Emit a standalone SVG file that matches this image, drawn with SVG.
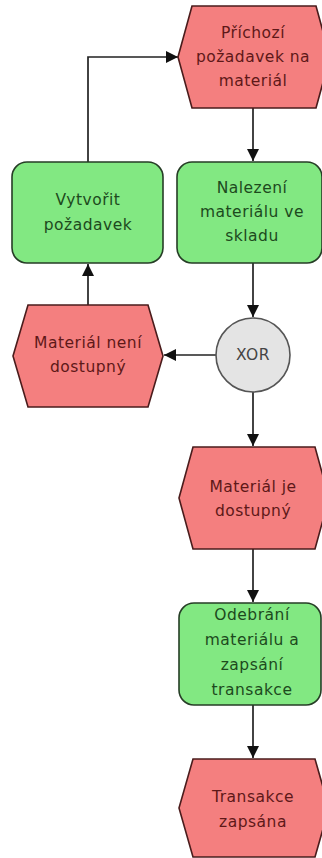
<svg xmlns="http://www.w3.org/2000/svg" width="322" height="858" viewBox="0 0 322 858">
<style>
.ev{fill:#f47f7f;stroke:#4a1c1c;stroke-width:1.6}
.fn{fill:#82e882;stroke:#263d26;stroke-width:1.6}
.gw{fill:#e4e4e4;stroke:#555;stroke-width:1.6}
text{font-family:"DejaVu Sans","Liberation Sans",sans-serif;font-size:15.5px;text-anchor:middle;letter-spacing:0.5px}
.evt{fill:#5e1818}
.fnt{fill:#1d4a1d}
.gwt{fill:#444}
.c{fill:none;stroke:#222;stroke-width:1.7}
</style>
<defs>
<marker id="ah" viewBox="0 0 10 10" refX="10" refY="5" markerWidth="12" markerHeight="12" markerUnits="userSpaceOnUse" orient="auto">
<path d="M0,0 L10,5 L0,10 Z" fill="#111"/>
</marker>
</defs>
<rect width="322" height="858" fill="#fff"/>
<g id="connectors">
<path class="c" d="M253,108 V161" marker-end="url(#ah)"/>
<path class="c" d="M88,162 V57 H178" marker-end="url(#ah)"/>
<path class="c" d="M88,305 V264" marker-end="url(#ah)"/>
<path class="c" d="M253,263 V317" marker-end="url(#ah)"/>
<path class="c" d="M216,355 H164" marker-end="url(#ah)"/>
<path class="c" d="M253,392 V446" marker-end="url(#ah)"/>
<path class="c" d="M253,549 V602" marker-end="url(#ah)"/>
<path class="c" d="M253,705 V758" marker-end="url(#ah)"/>
</g>
<g id="e1">
<polygon class="ev" points="178,57 192,6 316,6 330,57 316,108 192,108"/>
<text class="evt" x="253" y="38">Příchozí</text>
<text class="evt" x="253" y="62">požadavek na</text>
<text class="evt" x="253" y="86">materiál</text>
</g>
<g id="f1">
<rect class="fn" x="177" y="162" width="145" height="101" rx="15"/>
<text class="fnt" x="252" y="193">Nalezení</text>
<text class="fnt" x="252" y="217">materiálu ve</text>
<text class="fnt" x="252" y="241">skladu</text>
</g>
<g id="f0">
<rect class="fn" x="12" y="162" width="151" height="101" rx="15"/>
<text class="fnt" x="88" y="205">Vytvořit</text>
<text class="fnt" x="88" y="230">požadavek</text>
</g>
<g id="xor">
<circle class="gw" cx="253" cy="355" r="37"/>
<text class="gwt" x="253" y="360">XOR</text>
</g>
<g id="e2">
<polygon class="ev" points="13,356 28,305 148,305 163,356 148,407 28,407"/>
<text class="evt" x="88" y="348">Materiál není</text>
<text class="evt" x="88" y="372">dostupný</text>
</g>
<g id="e3">
<polygon class="ev" points="179,498 193,447 315,447 329,498 315,549 193,549"/>
<text class="evt" x="253" y="492">Materiál je</text>
<text class="evt" x="253" y="516">dostupný</text>
</g>
<g id="f2">
<rect class="fn" x="179" y="603" width="142" height="102" rx="15"/>
<text class="fnt" x="252" y="620">Odebrání</text>
<text class="fnt" x="252" y="645">materiálu a</text>
<text class="fnt" x="252" y="670">zapsání</text>
<text class="fnt" x="252" y="695">transakce</text>
</g>
<g id="e4">
<polygon class="ev" points="179,808 193,759 315,759 329,808 315,857 193,857"/>
<text class="evt" x="253" y="802">Transakce</text>
<text class="evt" x="253" y="827">zapsána</text>
</g>
</svg>
